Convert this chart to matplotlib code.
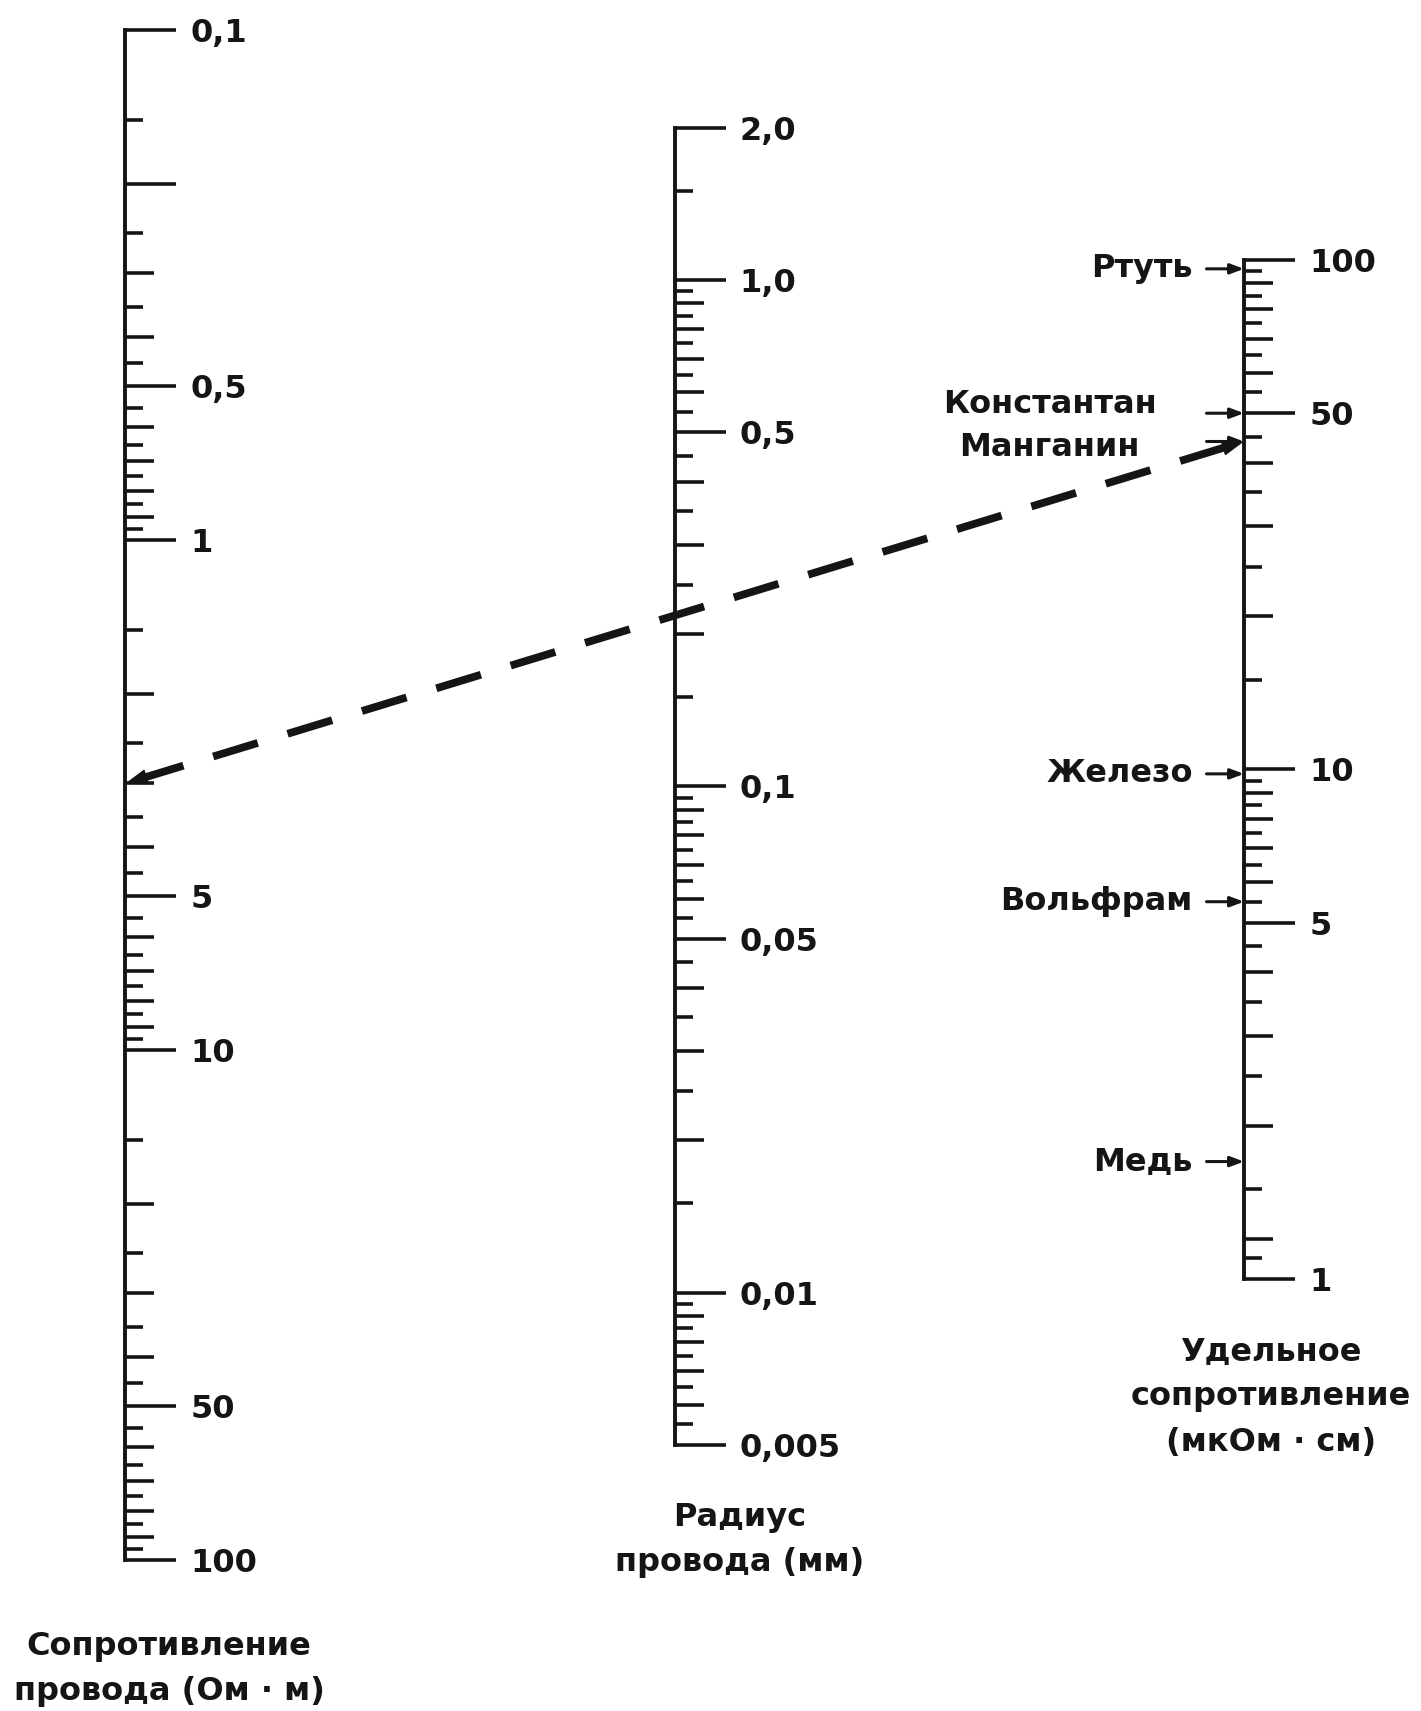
import matplotlib
matplotlib.use('Agg')
import numpy as np
import matplotlib.pyplot as plt
from matplotlib.ticker import FixedLocator, FixedFormatter, NullFormatter, NullLocator
from matplotlib.patches import ConnectionPatch

# ---------------- data ----------------
left_major = [0.1, 0.2, 0.5, 1, 5, 10, 50, 100]
left_labels = ['0,1', '', '0,5', '1', '5', '10', '50', '100']
left_range = (100, 0.1)          # (bottom, top)

mid_major = [2.0, 1.0, 0.5, 0.1, 0.05, 0.01, 0.005]
mid_labels = ['2,0', '1,0', '0,5', '0,1', '0,05', '0,01', '0,005']
mid_range = (0.005, 2.0)

right_major = [100, 50, 10, 5, 1]
right_labels = ['100', '50', '10', '5', '1']
right_range = (1, 100)
right_extra_medium = [1.2]
right_extra_short = [1.1]

materials = ['Ртуть', 'Константан', 'Манганин', 'Железо', 'Вольфрам', 'Медь']
material_rho = [96, 50, 44, 9.8, 5.5, 1.7]

example_R = 3.0      # Ом/м on the left scale
example_rho = 44     # мкОм·см on the right scale (манганин)

left_title = 'Сопротивление\nпровода (Ом · м)'
mid_title = 'Радиус\nпровода (мм)'
right_title = 'Удельное\nсопротивление\n(мкОм · см)'

# ---------------- style ----------------
plt.rcParams['font.family'] = ['DejaVu Sans']
plt.rcParams['font.weight'] = 'bold'
INK = '#151515'
FS = 23
LW_SPINE = 2.8
LW_TICK = 2.6
W, H = 1421, 1711

fig = plt.figure(figsize=(W / 100, H / 100), dpi=100)
fig.patch.set_facecolor('white')


def sub_ticks(lo, hi, majors):
    med, short = [], []
    for e in range(-4, 3):
        b = 10.0 ** e
        for k in range(3, 20):
            m = round(k * b / 2, 10)
            if m <= lo * 1.0001 or m >= hi * 0.9999:
                continue
            if any(abs(m - q) / q < 1e-6 for q in majors):
                continue
            (med if k % 2 == 0 else short).append(m)
    return med, short


def make_scale(spine_x, top_px, bottom_px, yrange, majors, labels,
               extra_med=(), extra_short=()):
    w = 0.002
    ax = fig.add_axes([spine_x / W - w, 1 - bottom_px / H, w,
                       (bottom_px - top_px) / H])
    ax2 = ax.twinx()
    lo, hi = min(yrange), max(yrange)
    med, short = sub_ticks(lo, hi, majors)
    med += list(extra_med)
    short += list(extra_short)
    for a in (ax, ax2):
        a.set_yscale('log')
        a.set_ylim(*yrange)
        a.set_xticks([])
        a.patch.set_visible(False)
        for s in ('left', 'top', 'bottom', 'right'):
            a.spines[s].set_visible(False)
    ax.spines['right'].set_visible(True)
    ax.spines['right'].set_linewidth(LW_SPINE)
    ax.spines['right'].set_color(INK)
    ax.yaxis.tick_right()
    ax.yaxis.set_major_locator(FixedLocator(majors))
    ax.yaxis.set_major_formatter(FixedFormatter(labels))
    ax.yaxis.set_minor_locator(FixedLocator(short))
    ax.yaxis.set_minor_formatter(NullFormatter())
    ax.tick_params(axis='y', which='major', direction='out', length=37,
                   width=LW_TICK, pad=10, labelsize=FS, colors=INK,
                   left=False, right=True, labelleft=False, labelright=True)
    ax.tick_params(axis='y', which='minor', direction='out', length=13,
                   width=LW_TICK, colors=INK, left=False, right=True)
    ax2.yaxis.tick_right()
    ax2.yaxis.set_major_locator(FixedLocator(med))
    ax2.yaxis.set_major_formatter(NullFormatter())
    ax2.yaxis.set_minor_locator(NullLocator())
    ax2.tick_params(axis='y', which='major', direction='out', length=21,
                    width=LW_TICK, colors=INK, left=False, right=True,
                    labelleft=False, labelright=False)
    return ax


axL = make_scale(125.5, 30, 1560, left_range, left_major, left_labels)
axM = make_scale(674.5, 127.7, 1445, mid_range, mid_major, mid_labels)
axR = make_scale(1244, 259.8, 1279, right_range, right_major, right_labels,
                 right_extra_medium, right_extra_short)

# ---------------- material labels with arrows ----------------
trR = axR.get_yaxis_transform()
for name, rho in zip(materials, material_rho):
    axR.annotate('', xy=(1, rho), xycoords=trR, xytext=(-27, 0),
                 textcoords='offset points',
                 arrowprops=dict(arrowstyle='-|>,head_length=0.8,head_width=0.3',
                                 mutation_scale=10, lw=2.2, color=INK,
                                 shrinkA=0, shrinkB=0),
                 annotation_clip=False)
    if name == 'Константан':
        axR.annotate(name, xy=(1, rho), xycoords=trR, xytext=(-140, 6.5),
                     textcoords='offset points', ha='center', va='center',
                     fontsize=FS, color=INK, annotation_clip=False)
    elif name == 'Манганин':
        axR.annotate(name, xy=(1, rho), xycoords=trR, xytext=(-140, -4),
                     textcoords='offset points', ha='center', va='center',
                     fontsize=FS, color=INK, annotation_clip=False)
    else:
        axR.annotate(name, xy=(1, rho), xycoords=trR, xytext=(-37, 0),
                     textcoords='offset points', ha='right', va='center',
                     fontsize=FS, color=INK, annotation_clip=False)

# ---------------- example dashed line ----------------
trL = axL.get_yaxis_transform()
con = ConnectionPatch(xyA=(1, example_R), coordsA=trL,
                      xyB=(1, example_rho), coordsB=trR,
                      arrowstyle='-', lw=5.6, color=INK,
                      linestyle=(0, (6, 4)), capstyle='butt',
                      shrinkA=10, shrinkB=10)
fig.add_artist(con)

pA = trL.transform((1, example_R))
pB = trR.transform((1, example_rho))
u = (pB - pA) / np.hypot(*(pB - pA))
L = 24
head = dict(arrowstyle='-|>,head_length=1.4,head_width=0.5',
            mutation_scale=10, lw=1.0, color=INK, shrinkA=0, shrinkB=0)
axL.annotate('', xy=(1, example_R), xycoords=trL,
             xytext=(u[0] * L, u[1] * L), textcoords='offset points',
             arrowprops=head, annotation_clip=False)
axR.annotate('', xy=(1, example_rho), xycoords=trR,
             xytext=(-u[0] * L, -u[1] * L), textcoords='offset points',
             arrowprops=head, annotation_clip=False)

# ---------------- scale titles ----------------
fig.text(169 / W, 1 - 1669 / H, left_title, ha='center', va='center',
         fontsize=FS, color=INK, linespacing=1.6)
fig.text(740 / W, 1 - 1540 / H, mid_title, ha='center', va='center',
         fontsize=FS, color=INK, linespacing=1.6)
fig.text(1271 / W, 1 - 1397 / H, right_title, ha='center', va='center',
         fontsize=FS, color=INK, linespacing=1.6)

fig.savefig('out.png', dpi=100, facecolor='white')
